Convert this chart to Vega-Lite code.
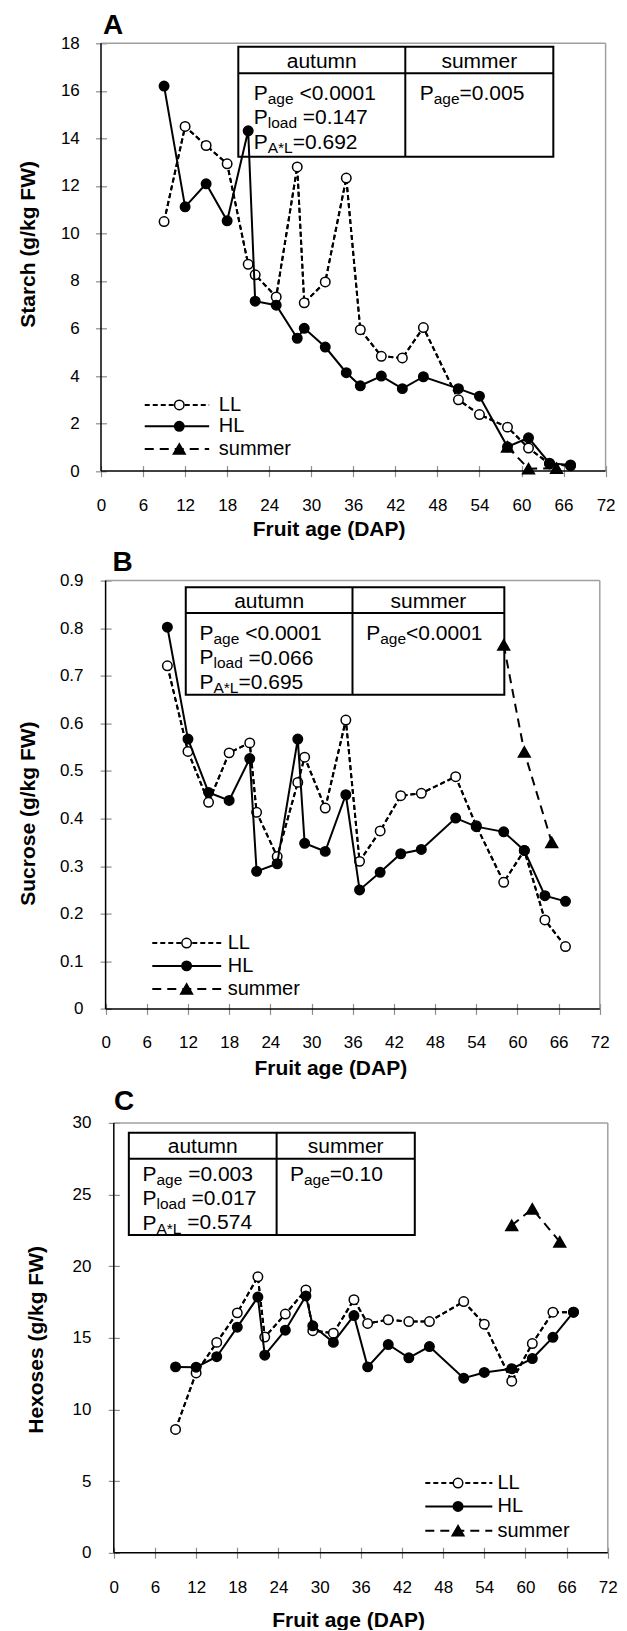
{
"$schema": "https://vega.github.io/schema/vega-lite/v6.json",
"background": "white",
"padding": {"left": 17, "top": 11.3, "right": 5, "bottom": 0},
"config": {
  "font": "Liberation Sans",
  "view": {"stroke": null},
  "axis": {"grid": false, "domain": false, "tickSize": 11, "tickColor": "#8c8c8c", "tickWidth": 1.2, "labelFontSize": 17, "labelFont": "Liberation Sans", "labelColor": "black", "labelFlush": false, "labelOverlap": false, "labelBound": false, "titleFont": "Liberation Sans", "titleFontSize": 21, "titleFontWeight": "bold", "titleColor": "black", "titleBaseline": "alphabetic", "titleAlign": "center", "format": "~g"}
},
"datasets": {
  "A": [
    {"age":9,"v":10.5,"s":"LL"},{"age":12,"v":14.5,"s":"LL"},{"age":15,"v":13.7,"s":"LL"},{"age":18,"v":12.93,"s":"LL"},{"age":21,"v":8.7,"s":"LL"},{"age":22,"v":8.26,"s":"LL"},{"age":25,"v":7.33,"s":"LL"},{"age":28,"v":12.8,"s":"LL"},{"age":29,"v":7.08,"s":"LL"},{"age":32,"v":7.96,"s":"LL"},{"age":35,"v":12.33,"s":"LL"},{"age":37,"v":5.95,"s":"LL"},{"age":40,"v":4.83,"s":"LL"},{"age":43,"v":4.76,"s":"LL"},{"age":46,"v":6.04,"s":"LL"},{"age":51,"v":3.0,"s":"LL"},{"age":54,"v":2.38,"s":"LL"},{"age":58,"v":1.85,"s":"LL"},{"age":61,"v":0.97,"s":"LL"},{"age":64,"v":0.3,"s":"LL"},{"age":67,"v":0.22,"s":"LL"},
    {"age":9,"v":16.2,"s":"HL"},{"age":12,"v":11.12,"s":"HL"},{"age":15,"v":12.09,"s":"HL"},{"age":18,"v":10.53,"s":"HL"},{"age":21,"v":14.32,"s":"HL"},{"age":22,"v":7.15,"s":"HL"},{"age":25,"v":6.98,"s":"HL"},{"age":28,"v":5.59,"s":"HL"},{"age":29,"v":6.01,"s":"HL"},{"age":32,"v":5.22,"s":"HL"},{"age":35,"v":4.14,"s":"HL"},{"age":37,"v":3.59,"s":"HL"},{"age":40,"v":4.0,"s":"HL"},{"age":43,"v":3.47,"s":"HL"},{"age":46,"v":3.97,"s":"HL"},{"age":51,"v":3.47,"s":"HL"},{"age":54,"v":3.15,"s":"HL"},{"age":58,"v":1.02,"s":"HL"},{"age":61,"v":1.4,"s":"HL"},{"age":64,"v":0.33,"s":"HL"},{"age":67,"v":0.26,"s":"HL"},
    {"age":58,"v":1.02,"s":"summer"},{"age":61,"v":0.1,"s":"summer"},{"age":65,"v":0.12,"s":"summer"}
  ],
  "B": [
    {"age":9,"v":0.721,"s":"LL"},{"age":12,"v":0.541,"s":"LL"},{"age":15,"v":0.434,"s":"LL"},{"age":18,"v":0.538,"s":"LL"},{"age":21,"v":0.559,"s":"LL"},{"age":22,"v":0.413,"s":"LL"},{"age":25,"v":0.32,"s":"LL"},{"age":28,"v":0.476,"s":"LL"},{"age":29,"v":0.529,"s":"LL"},{"age":32,"v":0.422,"s":"LL"},{"age":35,"v":0.607,"s":"LL"},{"age":37,"v":0.31,"s":"LL"},{"age":40,"v":0.374,"s":"LL"},{"age":43,"v":0.448,"s":"LL"},{"age":46,"v":0.453,"s":"LL"},{"age":51,"v":0.488,"s":"LL"},{"age":54,"v":0.385,"s":"LL"},{"age":58,"v":0.266,"s":"LL"},{"age":61,"v":0.333,"s":"LL"},{"age":64,"v":0.187,"s":"LL"},{"age":67,"v":0.131,"s":"LL"},
    {"age":9,"v":0.802,"s":"HL"},{"age":12,"v":0.567,"s":"HL"},{"age":15,"v":0.455,"s":"HL"},{"age":18,"v":0.438,"s":"HL"},{"age":21,"v":0.526,"s":"HL"},{"age":22,"v":0.289,"s":"HL"},{"age":25,"v":0.305,"s":"HL"},{"age":28,"v":0.567,"s":"HL"},{"age":29,"v":0.348,"s":"HL"},{"age":32,"v":0.331,"s":"HL"},{"age":35,"v":0.45,"s":"HL"},{"age":37,"v":0.25,"s":"HL"},{"age":40,"v":0.287,"s":"HL"},{"age":43,"v":0.326,"s":"HL"},{"age":46,"v":0.335,"s":"HL"},{"age":51,"v":0.401,"s":"HL"},{"age":54,"v":0.383,"s":"HL"},{"age":58,"v":0.372,"s":"HL"},{"age":61,"v":0.333,"s":"HL"},{"age":64,"v":0.238,"s":"HL"},{"age":67,"v":0.226,"s":"HL"},
    {"age":58,"v":0.765,"s":"summer"},{"age":61,"v":0.54,"s":"summer"},{"age":65,"v":0.35,"s":"summer"}
  ],
  "C": [
    {"age":9,"v":8.6,"s":"LL"},{"age":12,"v":12.55,"s":"LL"},{"age":15,"v":14.68,"s":"LL"},{"age":18,"v":16.74,"s":"LL"},{"age":21,"v":19.26,"s":"LL"},{"age":22,"v":15.05,"s":"LL"},{"age":25,"v":16.66,"s":"LL"},{"age":28,"v":18.34,"s":"LL"},{"age":29,"v":15.5,"s":"LL"},{"age":32,"v":15.32,"s":"LL"},{"age":35,"v":17.66,"s":"LL"},{"age":37,"v":16.0,"s":"LL"},{"age":40,"v":16.26,"s":"LL"},{"age":43,"v":16.13,"s":"LL"},{"age":46,"v":16.13,"s":"LL"},{"age":51,"v":17.53,"s":"LL"},{"age":54,"v":15.95,"s":"LL"},{"age":58,"v":11.97,"s":"LL"},{"age":61,"v":14.6,"s":"LL"},{"age":64,"v":16.79,"s":"LL"},{"age":67,"v":16.79,"s":"LL"},
    {"age":9,"v":12.97,"s":"HL"},{"age":12,"v":12.95,"s":"HL"},{"age":15,"v":13.68,"s":"HL"},{"age":18,"v":15.74,"s":"HL"},{"age":21,"v":17.84,"s":"HL"},{"age":22,"v":13.79,"s":"HL"},{"age":25,"v":15.53,"s":"HL"},{"age":28,"v":17.92,"s":"HL"},{"age":29,"v":15.84,"s":"HL"},{"age":32,"v":14.68,"s":"HL"},{"age":35,"v":16.55,"s":"HL"},{"age":37,"v":12.97,"s":"HL"},{"age":40,"v":14.53,"s":"HL"},{"age":43,"v":13.6,"s":"HL"},{"age":46,"v":14.39,"s":"HL"},{"age":51,"v":12.18,"s":"HL"},{"age":54,"v":12.58,"s":"HL"},{"age":58,"v":12.84,"s":"HL"},{"age":61,"v":13.55,"s":"HL"},{"age":64,"v":15.03,"s":"HL"},{"age":67,"v":16.79,"s":"HL"},
    {"age":58,"v":22.85,"s":"summer"},{"age":61,"v":24.0,"s":"summer"},{"age":65,"v":21.7,"s":"summer"}
  ]
},
"concat": [
{
  "width": 504.6, "height": 427.8,
  "layer": [
    {"data":{"name":"A"},"transform":[{"filter":"datum.s === 'LL'"}],"mark":{"type":"line","color":"black","strokeWidth":2,"strokeDash":[5,3]},"encoding":{"x":{"field":"age","type":"quantitative","scale":{"domain":[0,72],"nice":false},"axis":{"values":[0,6,12,18,24,30,36,42,48,54,60,66,72],"title":"Fruit age (DAP)","offset":-5.5,"labelPadding":21,"titleX":227.6,"titleY":70}},"y":{"field":"v","type":"quantitative","scale":{"domain":[0,18],"nice":false},"axis":{"values":[0,2,4,6,8,10,12,14,16,18],"title":"Starch (g/kg FW)","offset":-5.5,"labelPadding":16.2,"titleX":-72.2,"titleY":200.6}}}},
    {"data":{"values":[{}]},"mark":{"type":"rule","color":"#a0a0a0","strokeWidth":1.5},"encoding":{"x":{"datum":0,"type":"quantitative"},"x2":{"datum":72},"y":{"datum":18,"type":"quantitative"}}},
    {"data":{"values":[{}]},"mark":{"type":"rule","color":"#a0a0a0","strokeWidth":1.5},"encoding":{"x":{"datum":72,"type":"quantitative"},"y":{"datum":0,"type":"quantitative"},"y2":{"datum":18}}},
    {"data":{"values":[{}]},"mark":{"type":"rect","fill":"white","stroke":"black","strokeWidth":2},"encoding":{"x":{"datum":19.59,"type":"quantitative"},"x2":{"datum":64.54},"y":{"datum":13.23,"type":"quantitative"},"y2":{"datum":17.86}}},
    {"data":{"values":[{}]},"mark":{"type":"rule","color":"black","strokeWidth":2},"encoding":{"x":{"datum":43.42,"type":"quantitative"},"y":{"datum":13.23,"type":"quantitative"},"y2":{"datum":17.86}}},
    {"data":{"values":[{}]},"mark":{"type":"rule","color":"black","strokeWidth":2},"encoding":{"x":{"datum":19.59,"type":"quantitative"},"x2":{"datum":64.54},"y":{"datum":16.74,"type":"quantitative"}}},
    {"data":{"values":[{}]},"mark":{"type":"text","text":"autumn","fontSize":21,"align":"center","baseline":"alphabetic","color":"black"},"encoding":{"x":{"datum":31.5,"type":"quantitative"},"y":{"datum":16.94,"type":"quantitative"}}},
    {"data":{"values":[{}]},"mark":{"type":"text","text":"summer","fontSize":21,"align":"center","baseline":"alphabetic","color":"black"},"encoding":{"x":{"datum":53.98,"type":"quantitative"},"y":{"datum":16.94,"type":"quantitative"}}},
    {"data":{"values":[{}]},"mark":{"type":"text","text":["P","P","P"],"lineHeight":24.5,"fontSize":21,"align":"left","baseline":"alphabetic","color":"black"},"encoding":{"x":{"datum":21.79,"type":"quantitative"},"y":{"datum":15.63,"type":"quantitative"}}},
    {"data":{"values":[{}]},"mark":{"type":"text","text":["age","load","A*L"],"lineHeight":24.5,"fontSize":15.5,"dx":14,"dy":4,"align":"left","baseline":"alphabetic","color":"black"},"encoding":{"x":{"datum":21.79,"type":"quantitative"},"y":{"datum":15.63,"type":"quantitative"}}},
    {"data":{"values":[{}]},"mark":{"type":"text","text":"<0.0001","fontSize":21,"dx":45.7,"align":"left","baseline":"alphabetic","color":"black"},"encoding":{"x":{"datum":21.79,"type":"quantitative"},"y":{"datum":15.63,"type":"quantitative"}}},
    {"data":{"values":[{}]},"mark":{"type":"text","text":"=0.147","fontSize":21,"dx":49.1,"align":"left","baseline":"alphabetic","color":"black"},"encoding":{"x":{"datum":21.79,"type":"quantitative"},"y":{"datum":14.6,"type":"quantitative"}}},
    {"data":{"values":[{}]},"mark":{"type":"text","text":"=0.692","fontSize":21,"dx":39.0,"align":"left","baseline":"alphabetic","color":"black"},"encoding":{"x":{"datum":21.79,"type":"quantitative"},"y":{"datum":13.57,"type":"quantitative"}}},
    {"data":{"values":[{}]},"mark":{"type":"text","text":"P","fontSize":21,"align":"left","baseline":"alphabetic","color":"black"},"encoding":{"x":{"datum":45.48,"type":"quantitative"},"y":{"datum":15.63,"type":"quantitative"}}},
    {"data":{"values":[{}]},"mark":{"type":"text","text":"age","fontSize":15.5,"dx":14,"dy":4,"align":"left","baseline":"alphabetic","color":"black"},"encoding":{"x":{"datum":45.48,"type":"quantitative"},"y":{"datum":15.63,"type":"quantitative"}}},
    {"data":{"values":[{}]},"mark":{"type":"text","text":"=0.005","fontSize":21,"dx":39.85,"align":"left","baseline":"alphabetic","color":"black"},"encoding":{"x":{"datum":45.48,"type":"quantitative"},"y":{"datum":15.63,"type":"quantitative"}}},
    {"data":{"values":[{}]},"mark":{"type":"rule","color":"black","strokeWidth":1.5},"encoding":{"x":{"datum":0,"type":"quantitative"},"x2":{"datum":72},"y":{"datum":0,"type":"quantitative"}}},
    {"data":{"values":[{}]},"mark":{"type":"rule","color":"black","strokeWidth":1.5},"encoding":{"x":{"datum":0,"type":"quantitative"},"y":{"datum":0,"type":"quantitative"},"y2":{"datum":18}}},
    {"data":{"name":"A"},"transform":[{"filter":"datum.s === 'LL'"}],"mark":{"type":"line","color":"black","strokeWidth":2,"strokeDash":[5,3]},"encoding":{"x":{"field":"age","type":"quantitative"},"y":{"field":"v","type":"quantitative"}}},
    {"data":{"name":"A"},"transform":[{"filter":"datum.s === 'LL'"}],"mark":{"type":"point","shape":"circle","filled":true,"fill":"white","stroke":"black","strokeWidth":1.5,"size":90,"opacity":1},"encoding":{"x":{"field":"age","type":"quantitative"},"y":{"field":"v","type":"quantitative"}}},
    {"data":{"name":"A"},"transform":[{"filter":"datum.s === 'HL'"}],"mark":{"type":"line","color":"black","strokeWidth":2},"encoding":{"x":{"field":"age","type":"quantitative"},"y":{"field":"v","type":"quantitative"}}},
    {"data":{"name":"A"},"transform":[{"filter":"datum.s === 'HL'"}],"mark":{"type":"point","shape":"circle","filled":true,"fill":"black","stroke":"black","strokeWidth":1.5,"size":90,"opacity":1},"encoding":{"x":{"field":"age","type":"quantitative"},"y":{"field":"v","type":"quantitative"}}},
    {"data":{"name":"A"},"transform":[{"filter":"datum.s === 'summer'"}],"mark":{"type":"line","color":"black","strokeWidth":2,"strokeDash":[9,6]},"encoding":{"x":{"field":"age","type":"quantitative"},"y":{"field":"v","type":"quantitative"}}},
    {"data":{"name":"A"},"transform":[{"filter":"datum.s === 'summer'"}],"mark":{"type":"point","shape":"triangle-up","filled":true,"fill":"black","stroke":"black","strokeWidth":1.5,"size":140,"opacity":1},"encoding":{"x":{"field":"age","type":"quantitative"},"y":{"field":"v","type":"quantitative"}}},
    {"data":{"values":[{}]},"mark":{"type":"rule","color":"black","strokeWidth":2,"strokeDash":[5,3]},"encoding":{"x":{"datum":6.24,"type":"quantitative"},"x2":{"datum":15.43},"y":{"datum":2.785,"type":"quantitative"}}},
    {"data":{"values":[{}]},"mark":{"type":"rule","color":"black","strokeWidth":2},"encoding":{"x":{"datum":6.24,"type":"quantitative"},"x2":{"datum":15.43},"y":{"datum":1.885,"type":"quantitative"}}},
    {"data":{"values":[{}]},"mark":{"type":"rule","color":"black","strokeWidth":2,"strokeDash":[9,6]},"encoding":{"x":{"datum":6.24,"type":"quantitative"},"x2":{"datum":15.43},"y":{"datum":0.934,"type":"quantitative"}}},
    {"data":{"values":[{}]},"mark":{"type":"point","shape":"circle","filled":true,"fill":"white","stroke":"black","strokeWidth":1.5,"size":90,"opacity":1},"encoding":{"x":{"datum":11.17,"type":"quantitative"},"y":{"datum":2.785,"type":"quantitative"}}},
    {"data":{"values":[{}]},"mark":{"type":"point","shape":"circle","filled":true,"fill":"black","stroke":"black","strokeWidth":1.5,"size":90,"opacity":1},"encoding":{"x":{"datum":11.17,"type":"quantitative"},"y":{"datum":1.885,"type":"quantitative"}}},
    {"data":{"values":[{}]},"mark":{"type":"point","shape":"triangle-up","filled":true,"fill":"black","stroke":"black","strokeWidth":1.5,"size":140,"opacity":1},"encoding":{"x":{"datum":11.17,"type":"quantitative"},"y":{"datum":0.934,"type":"quantitative"}}},
    {"data":{"values":[{}]},"mark":{"type":"text","text":"LL","fontSize":20,"align":"left","baseline":"middle","color":"black"},"encoding":{"x":{"datum":16.81,"type":"quantitative"},"y":{"datum":2.785,"type":"quantitative"}}},
    {"data":{"values":[{}]},"mark":{"type":"text","text":"HL","fontSize":20,"align":"left","baseline":"middle","color":"black"},"encoding":{"x":{"datum":16.81,"type":"quantitative"},"y":{"datum":1.885,"type":"quantitative"}}},
    {"data":{"values":[{}]},"mark":{"type":"text","text":"summer","fontSize":20,"align":"left","baseline":"middle","color":"black"},"encoding":{"x":{"datum":16.81,"type":"quantitative"},"y":{"datum":0.934,"type":"quantitative"}}},
    {"data":{"values":[{}]},"mark":{"type":"text","text":"A","fontSize":28,"fontWeight":"bold","align":"left","baseline":"alphabetic","color":"black"},"encoding":{"x":{"datum":0.285,"type":"quantitative"},"y":{"datum":18.395,"type":"quantitative"}}}
  ]
},
{
  "width": 498.8, "height": 428.3,
  "layer": [
    {"data":{"name":"B"},"transform":[{"filter":"datum.s === 'LL'"}],"mark":{"type":"line","color":"black","strokeWidth":2,"strokeDash":[5,3]},"encoding":{"x":{"field":"age","type":"quantitative","scale":{"domain":[-0.67,72],"nice":false,"zero":false},"axis":{"values":[0,6,12,18,24,30,36,42,48,54,60,66,72],"title":"Fruit age (DAP)","offset":-5.5,"labelPadding":20,"titleX":229.3,"titleY":71.5}},"y":{"field":"v","type":"quantitative","scale":{"domain":[0,0.9],"nice":false},"axis":{"values":[0,0.1,0.2,0.3,0.4,0.5,0.6,0.7,0.8,0.9],"title":"Sucrose (g/kg FW)","offset":-10.1,"labelPadding":17.1,"titleX":-76.8,"titleY":232.5}}}},
    {"data":{"values":[{}]},"mark":{"type":"rule","color":"#a0a0a0","strokeWidth":1.5},"encoding":{"x":{"datum":0,"type":"quantitative"},"x2":{"datum":72},"y":{"datum":0.9,"type":"quantitative"}}},
    {"data":{"values":[{}]},"mark":{"type":"rule","color":"#a0a0a0","strokeWidth":1.5},"encoding":{"x":{"datum":72,"type":"quantitative"},"y":{"datum":0,"type":"quantitative"},"y2":{"datum":0.9}}},
    {"data":{"values":[{}]},"mark":{"type":"rect","fill":"white","stroke":"black","strokeWidth":2},"encoding":{"x":{"datum":11.68,"type":"quantitative"},"x2":{"datum":58.09},"y":{"datum":0.66,"type":"quantitative"},"y2":{"datum":0.886}}},
    {"data":{"values":[{}]},"mark":{"type":"rule","color":"black","strokeWidth":2},"encoding":{"x":{"datum":35.97,"type":"quantitative"},"y":{"datum":0.66,"type":"quantitative"},"y2":{"datum":0.886}}},
    {"data":{"values":[{}]},"mark":{"type":"rule","color":"black","strokeWidth":2},"encoding":{"x":{"datum":11.68,"type":"quantitative"},"x2":{"datum":58.09},"y":{"datum":0.832,"type":"quantitative"}}},
    {"data":{"values":[{}]},"mark":{"type":"text","text":"autumn","fontSize":21,"align":"center","baseline":"alphabetic","color":"black"},"encoding":{"x":{"datum":23.83,"type":"quantitative"},"y":{"datum":0.8426,"type":"quantitative"}}},
    {"data":{"values":[{}]},"mark":{"type":"text","text":"summer","fontSize":21,"align":"center","baseline":"alphabetic","color":"black"},"encoding":{"x":{"datum":47.03,"type":"quantitative"},"y":{"datum":0.8426,"type":"quantitative"}}},
    {"data":{"values":[{}]},"mark":{"type":"text","text":["P","P","P"],"lineHeight":24.5,"fontSize":21,"align":"left","baseline":"alphabetic","color":"black"},"encoding":{"x":{"datum":13.68,"type":"quantitative"},"y":{"datum":0.7754,"type":"quantitative"}}},
    {"data":{"values":[{}]},"mark":{"type":"text","text":["age","load","A*L"],"lineHeight":24.5,"fontSize":15.5,"dx":14,"dy":4,"align":"left","baseline":"alphabetic","color":"black"},"encoding":{"x":{"datum":13.68,"type":"quantitative"},"y":{"datum":0.7754,"type":"quantitative"}}},
    {"data":{"values":[{}]},"mark":{"type":"text","text":"<0.0001","fontSize":21,"dx":45.7,"align":"left","baseline":"alphabetic","color":"black"},"encoding":{"x":{"datum":13.68,"type":"quantitative"},"y":{"datum":0.7754,"type":"quantitative"}}},
    {"data":{"values":[{}]},"mark":{"type":"text","text":"=0.066","fontSize":21,"dx":49.1,"align":"left","baseline":"alphabetic","color":"black"},"encoding":{"x":{"datum":13.68,"type":"quantitative"},"y":{"datum":0.7235,"type":"quantitative"}}},
    {"data":{"values":[{}]},"mark":{"type":"text","text":"=0.695","fontSize":21,"dx":39.0,"align":"left","baseline":"alphabetic","color":"black"},"encoding":{"x":{"datum":13.68,"type":"quantitative"},"y":{"datum":0.672,"type":"quantitative"}}},
    {"data":{"values":[{}]},"mark":{"type":"text","text":"P","fontSize":21,"align":"left","baseline":"alphabetic","color":"black"},"encoding":{"x":{"datum":37.97,"type":"quantitative"},"y":{"datum":0.7754,"type":"quantitative"}}},
    {"data":{"values":[{}]},"mark":{"type":"text","text":"age","fontSize":15.5,"dx":14,"dy":4,"align":"left","baseline":"alphabetic","color":"black"},"encoding":{"x":{"datum":37.97,"type":"quantitative"},"y":{"datum":0.7754,"type":"quantitative"}}},
    {"data":{"values":[{}]},"mark":{"type":"text","text":"<0.0001","fontSize":21,"dx":39.85,"align":"left","baseline":"alphabetic","color":"black"},"encoding":{"x":{"datum":37.97,"type":"quantitative"},"y":{"datum":0.7754,"type":"quantitative"}}},
    {"data":{"values":[{}]},"mark":{"type":"rule","color":"black","strokeWidth":1.5},"encoding":{"x":{"datum":0,"type":"quantitative"},"x2":{"datum":72},"y":{"datum":0,"type":"quantitative"}}},
    {"data":{"values":[{}]},"mark":{"type":"rule","color":"black","strokeWidth":1.5},"encoding":{"x":{"datum":0,"type":"quantitative"},"y":{"datum":0,"type":"quantitative"},"y2":{"datum":0.9}}},
    {"data":{"name":"B"},"transform":[{"filter":"datum.s === 'LL'"}],"mark":{"type":"line","color":"black","strokeWidth":2,"strokeDash":[5,3]},"encoding":{"x":{"field":"age","type":"quantitative"},"y":{"field":"v","type":"quantitative"}}},
    {"data":{"name":"B"},"transform":[{"filter":"datum.s === 'LL'"}],"mark":{"type":"point","shape":"circle","filled":true,"fill":"white","stroke":"black","strokeWidth":1.5,"size":90,"opacity":1},"encoding":{"x":{"field":"age","type":"quantitative"},"y":{"field":"v","type":"quantitative"}}},
    {"data":{"name":"B"},"transform":[{"filter":"datum.s === 'HL'"}],"mark":{"type":"line","color":"black","strokeWidth":2},"encoding":{"x":{"field":"age","type":"quantitative"},"y":{"field":"v","type":"quantitative"}}},
    {"data":{"name":"B"},"transform":[{"filter":"datum.s === 'HL'"}],"mark":{"type":"point","shape":"circle","filled":true,"fill":"black","stroke":"black","strokeWidth":1.5,"size":90,"opacity":1},"encoding":{"x":{"field":"age","type":"quantitative"},"y":{"field":"v","type":"quantitative"}}},
    {"data":{"name":"B"},"transform":[{"filter":"datum.s === 'summer'"}],"mark":{"type":"line","color":"black","strokeWidth":2,"strokeDash":[9,6]},"encoding":{"x":{"field":"age","type":"quantitative"},"y":{"field":"v","type":"quantitative"}}},
    {"data":{"name":"B"},"transform":[{"filter":"datum.s === 'summer'"}],"mark":{"type":"point","shape":"triangle-up","filled":true,"fill":"black","stroke":"black","strokeWidth":1.5,"size":140,"opacity":1},"encoding":{"x":{"field":"age","type":"quantitative"},"y":{"field":"v","type":"quantitative"}}},
    {"data":{"values":[{}]},"mark":{"type":"rule","color":"black","strokeWidth":2,"strokeDash":[5,3]},"encoding":{"x":{"datum":6.8,"type":"quantitative"},"x2":{"datum":16.84},"y":{"datum":0.1383,"type":"quantitative"}}},
    {"data":{"values":[{}]},"mark":{"type":"rule","color":"black","strokeWidth":2},"encoding":{"x":{"datum":6.8,"type":"quantitative"},"x2":{"datum":16.84},"y":{"datum":0.0904,"type":"quantitative"}}},
    {"data":{"values":[{}]},"mark":{"type":"rule","color":"black","strokeWidth":2,"strokeDash":[9,6]},"encoding":{"x":{"datum":6.8,"type":"quantitative"},"x2":{"datum":16.84},"y":{"datum":0.042,"type":"quantitative"}}},
    {"data":{"values":[{}]},"mark":{"type":"point","shape":"circle","filled":true,"fill":"white","stroke":"black","strokeWidth":1.5,"size":90,"opacity":1},"encoding":{"x":{"datum":11.8,"type":"quantitative"},"y":{"datum":0.1383,"type":"quantitative"}}},
    {"data":{"values":[{}]},"mark":{"type":"point","shape":"circle","filled":true,"fill":"black","stroke":"black","strokeWidth":1.5,"size":90,"opacity":1},"encoding":{"x":{"datum":11.8,"type":"quantitative"},"y":{"datum":0.0904,"type":"quantitative"}}},
    {"data":{"values":[{}]},"mark":{"type":"point","shape":"triangle-up","filled":true,"fill":"black","stroke":"black","strokeWidth":1.5,"size":140,"opacity":1},"encoding":{"x":{"datum":11.8,"type":"quantitative"},"y":{"datum":0.042,"type":"quantitative"}}},
    {"data":{"values":[{}]},"mark":{"type":"text","text":"LL","fontSize":20,"align":"left","baseline":"middle","color":"black"},"encoding":{"x":{"datum":17.79,"type":"quantitative"},"y":{"datum":0.1383,"type":"quantitative"}}},
    {"data":{"values":[{}]},"mark":{"type":"text","text":"HL","fontSize":20,"align":"left","baseline":"middle","color":"black"},"encoding":{"x":{"datum":17.79,"type":"quantitative"},"y":{"datum":0.0904,"type":"quantitative"}}},
    {"data":{"values":[{}]},"mark":{"type":"text","text":"summer","fontSize":20,"align":"left","baseline":"middle","color":"black"},"encoding":{"x":{"datum":17.79,"type":"quantitative"},"y":{"datum":0.042,"type":"quantitative"}}},
    {"data":{"values":[{}]},"mark":{"type":"text","text":"B","fontSize":28,"fontWeight":"bold","align":"left","baseline":"alphabetic","color":"black"},"encoding":{"x":{"datum":1.02,"type":"quantitative"},"y":{"datum":0.921,"type":"quantitative"}}}
  ]
},
{
  "width": 506.8, "height": 429.8,
  "layer": [
    {"data":{"name":"C"},"transform":[{"filter":"datum.s === 'LL'"}],"mark":{"type":"line","color":"black","strokeWidth":2,"strokeDash":[5,3]},"encoding":{"x":{"field":"age","type":"quantitative","scale":{"domain":[-1.866,72],"nice":false,"zero":false},"axis":{"values":[0,6,12,18,24,30,36,42,48,54,60,66,72],"title":"Fruit age (DAP)","offset":-5.5,"labelPadding":21.3,"titleX":247.1,"titleY":79}},"y":{"field":"v","type":"quantitative","scale":{"domain":[0,30],"nice":false},"axis":{"values":[0,5,10,15,20,25,30],"title":"Hexoses (g/kg FW)","offset":-18.3,"labelPadding":17.3,"titleX":-77,"titleY":216.5}}}},
    {"data":{"values":[{}]},"mark":{"type":"rule","color":"#a0a0a0","strokeWidth":1.5},"encoding":{"x":{"datum":0,"type":"quantitative"},"x2":{"datum":72},"y":{"datum":30,"type":"quantitative"}}},
    {"data":{"values":[{}]},"mark":{"type":"rule","color":"#a0a0a0","strokeWidth":1.5},"encoding":{"x":{"datum":72,"type":"quantitative"},"y":{"datum":0,"type":"quantitative"},"y2":{"datum":30}}},
    {"data":{"values":[{}]},"mark":{"type":"rect","fill":"white","stroke":"black","strokeWidth":2},"encoding":{"x":{"datum":2.19,"type":"quantitative"},"x2":{"datum":43.87},"y":{"datum":22.18,"type":"quantitative"},"y2":{"datum":29.31}}},
    {"data":{"values":[{}]},"mark":{"type":"rule","color":"black","strokeWidth":2},"encoding":{"x":{"datum":23.73,"type":"quantitative"},"y":{"datum":22.18,"type":"quantitative"},"y2":{"datum":29.31}}},
    {"data":{"values":[{}]},"mark":{"type":"rule","color":"black","strokeWidth":2},"encoding":{"x":{"datum":2.19,"type":"quantitative"},"x2":{"datum":43.87},"y":{"datum":27.5,"type":"quantitative"}}},
    {"data":{"values":[{}]},"mark":{"type":"text","text":"autumn","fontSize":21,"align":"center","baseline":"alphabetic","color":"black"},"encoding":{"x":{"datum":12.96,"type":"quantitative"},"y":{"datum":27.89,"type":"quantitative"}}},
    {"data":{"values":[{}]},"mark":{"type":"text","text":"summer","fontSize":21,"align":"center","baseline":"alphabetic","color":"black"},"encoding":{"x":{"datum":33.8,"type":"quantitative"},"y":{"datum":27.89,"type":"quantitative"}}},
    {"data":{"values":[{}]},"mark":{"type":"text","text":["P","P","P"],"lineHeight":24.5,"fontSize":21,"align":"left","baseline":"alphabetic","color":"black"},"encoding":{"x":{"datum":4.18,"type":"quantitative"},"y":{"datum":25.97,"type":"quantitative"}}},
    {"data":{"values":[{}]},"mark":{"type":"text","text":["age","load","A*L"],"lineHeight":24.5,"fontSize":15.5,"dx":14,"dy":4,"align":"left","baseline":"alphabetic","color":"black"},"encoding":{"x":{"datum":4.18,"type":"quantitative"},"y":{"datum":25.97,"type":"quantitative"}}},
    {"data":{"values":[{}]},"mark":{"type":"text","text":"=0.003","fontSize":21,"dx":45.7,"align":"left","baseline":"alphabetic","color":"black"},"encoding":{"x":{"datum":4.18,"type":"quantitative"},"y":{"datum":25.97,"type":"quantitative"}}},
    {"data":{"values":[{}]},"mark":{"type":"text","text":"=0.017","fontSize":21,"dx":49.1,"align":"left","baseline":"alphabetic","color":"black"},"encoding":{"x":{"datum":4.18,"type":"quantitative"},"y":{"datum":24.28,"type":"quantitative"}}},
    {"data":{"values":[{}]},"mark":{"type":"text","text":"=0.574","fontSize":21,"dx":44.84,"align":"left","baseline":"alphabetic","color":"black"},"encoding":{"x":{"datum":4.18,"type":"quantitative"},"y":{"datum":22.57,"type":"quantitative"}}},
    {"data":{"values":[{}]},"mark":{"type":"text","text":"P","fontSize":21,"align":"left","baseline":"alphabetic","color":"black"},"encoding":{"x":{"datum":25.67,"type":"quantitative"},"y":{"datum":25.97,"type":"quantitative"}}},
    {"data":{"values":[{}]},"mark":{"type":"text","text":"age","fontSize":15.5,"dx":14,"dy":4,"align":"left","baseline":"alphabetic","color":"black"},"encoding":{"x":{"datum":25.67,"type":"quantitative"},"y":{"datum":25.97,"type":"quantitative"}}},
    {"data":{"values":[{}]},"mark":{"type":"text","text":"=0.10","fontSize":21,"dx":39.85,"align":"left","baseline":"alphabetic","color":"black"},"encoding":{"x":{"datum":25.67,"type":"quantitative"},"y":{"datum":25.97,"type":"quantitative"}}},
    {"data":{"values":[{}]},"mark":{"type":"rule","color":"black","strokeWidth":1.5},"encoding":{"x":{"datum":0,"type":"quantitative"},"x2":{"datum":72},"y":{"datum":0,"type":"quantitative"}}},
    {"data":{"values":[{}]},"mark":{"type":"rule","color":"black","strokeWidth":1.5},"encoding":{"x":{"datum":0,"type":"quantitative"},"y":{"datum":0,"type":"quantitative"},"y2":{"datum":30}}},
    {"data":{"name":"C"},"transform":[{"filter":"datum.s === 'LL'"}],"mark":{"type":"line","color":"black","strokeWidth":2,"strokeDash":[5,3]},"encoding":{"x":{"field":"age","type":"quantitative"},"y":{"field":"v","type":"quantitative"}}},
    {"data":{"name":"C"},"transform":[{"filter":"datum.s === 'LL'"}],"mark":{"type":"point","shape":"circle","filled":true,"fill":"white","stroke":"black","strokeWidth":1.5,"size":90,"opacity":1},"encoding":{"x":{"field":"age","type":"quantitative"},"y":{"field":"v","type":"quantitative"}}},
    {"data":{"name":"C"},"transform":[{"filter":"datum.s === 'HL'"}],"mark":{"type":"line","color":"black","strokeWidth":2},"encoding":{"x":{"field":"age","type":"quantitative"},"y":{"field":"v","type":"quantitative"}}},
    {"data":{"name":"C"},"transform":[{"filter":"datum.s === 'HL'"}],"mark":{"type":"point","shape":"circle","filled":true,"fill":"black","stroke":"black","strokeWidth":1.5,"size":90,"opacity":1},"encoding":{"x":{"field":"age","type":"quantitative"},"y":{"field":"v","type":"quantitative"}}},
    {"data":{"name":"C"},"transform":[{"filter":"datum.s === 'summer'"}],"mark":{"type":"line","color":"black","strokeWidth":2,"strokeDash":[9,6]},"encoding":{"x":{"field":"age","type":"quantitative"},"y":{"field":"v","type":"quantitative"}}},
    {"data":{"name":"C"},"transform":[{"filter":"datum.s === 'summer'"}],"mark":{"type":"point","shape":"triangle-up","filled":true,"fill":"black","stroke":"black","strokeWidth":1.5,"size":140,"opacity":1},"encoding":{"x":{"field":"age","type":"quantitative"},"y":{"field":"v","type":"quantitative"}}},
    {"data":{"values":[{}]},"mark":{"type":"rule","color":"black","strokeWidth":2,"strokeDash":[5,3]},"encoding":{"x":{"datum":45.4,"type":"quantitative"},"x2":{"datum":55.17},"y":{"datum":4.858,"type":"quantitative"}}},
    {"data":{"values":[{}]},"mark":{"type":"rule","color":"black","strokeWidth":2},"encoding":{"x":{"datum":45.4,"type":"quantitative"},"x2":{"datum":55.17},"y":{"datum":3.232,"type":"quantitative"}}},
    {"data":{"values":[{}]},"mark":{"type":"rule","color":"black","strokeWidth":2,"strokeDash":[9,6]},"encoding":{"x":{"datum":45.4,"type":"quantitative"},"x2":{"datum":55.17},"y":{"datum":1.536,"type":"quantitative"}}},
    {"data":{"values":[{}]},"mark":{"type":"point","shape":"circle","filled":true,"fill":"white","stroke":"black","strokeWidth":1.5,"size":90,"opacity":1},"encoding":{"x":{"datum":50.17,"type":"quantitative"},"y":{"datum":4.858,"type":"quantitative"}}},
    {"data":{"values":[{}]},"mark":{"type":"point","shape":"circle","filled":true,"fill":"black","stroke":"black","strokeWidth":1.5,"size":90,"opacity":1},"encoding":{"x":{"datum":50.17,"type":"quantitative"},"y":{"datum":3.232,"type":"quantitative"}}},
    {"data":{"values":[{}]},"mark":{"type":"point","shape":"triangle-up","filled":true,"fill":"black","stroke":"black","strokeWidth":1.5,"size":140,"opacity":1},"encoding":{"x":{"datum":50.17,"type":"quantitative"},"y":{"datum":1.536,"type":"quantitative"}}},
    {"data":{"values":[{}]},"mark":{"type":"text","text":"LL","fontSize":20,"align":"left","baseline":"middle","color":"black"},"encoding":{"x":{"datum":55.92,"type":"quantitative"},"y":{"datum":4.858,"type":"quantitative"}}},
    {"data":{"values":[{}]},"mark":{"type":"text","text":"HL","fontSize":20,"align":"left","baseline":"middle","color":"black"},"encoding":{"x":{"datum":55.92,"type":"quantitative"},"y":{"datum":3.232,"type":"quantitative"}}},
    {"data":{"values":[{}]},"mark":{"type":"text","text":"summer","fontSize":20,"align":"left","baseline":"middle","color":"black"},"encoding":{"x":{"datum":55.92,"type":"quantitative"},"y":{"datum":1.536,"type":"quantitative"}}},
    {"data":{"values":[{}]},"mark":{"type":"text","text":"C","fontSize":28,"fontWeight":"bold","align":"left","baseline":"alphabetic","color":"black"},"encoding":{"x":{"datum":0.044,"type":"quantitative"},"y":{"datum":30.87,"type":"quantitative"}}}
  ]
}
],
"columns": 1,
"align": "none",
"spacing": 8.3
}
